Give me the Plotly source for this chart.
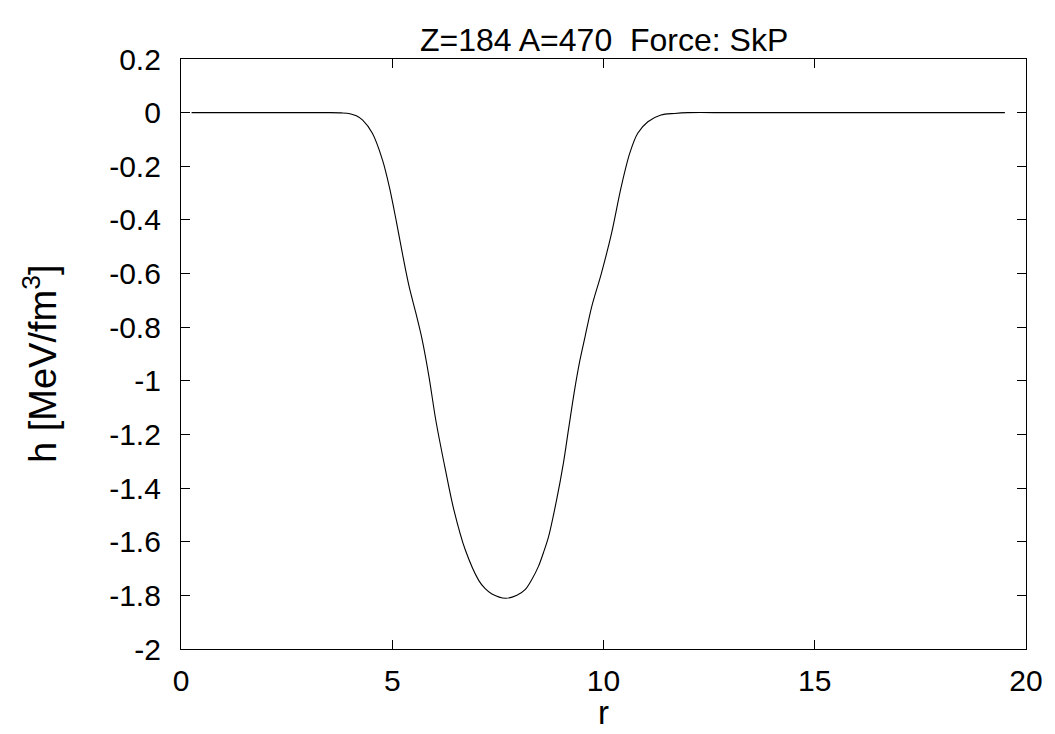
import plotly.graph_objects as go

# data
r = [0.25, 1, 2, 3, 3.5, 3.8, 4.0, 4.15, 4.3, 4.53, 4.77, 4.93, 5.09, 5.24, 5.40,
     5.56, 5.71, 5.87, 6.03, 6.26, 6.46, 6.73, 7.05, 7.2, 7.36, 7.68, 7.95, 8.15,
     8.30, 8.46, 8.58, 8.70, 8.89, 9.05, 9.17, 9.32, 9.44, 9.56, 9.72, 9.95, 10.19,
     10.42, 10.62, 10.81, 11.05, 11.36, 11.68, 12, 13, 15, 17, 19.5]
h = [0, 0, 0, 0, 0, -0.001, -0.004, -0.012, -0.028, -0.077, -0.177, -0.276, -0.40,
     -0.525, -0.649, -0.748, -0.848, -0.985, -1.146, -1.333, -1.482, -1.631, -1.745,
     -1.775, -1.795, -1.811, -1.800, -1.778, -1.742, -1.692, -1.640, -1.581, -1.444,
     -1.308, -1.183, -1.03, -0.925, -0.838, -0.724, -0.599, -0.45, -0.276, -0.152,
     -0.077, -0.034, -0.009, -0.003, 0, 0, 0, 0, 0]

x_ticks = [0, 5, 10, 15, 20]
y_ticks = [0.2, 0, -0.2, -0.4, -0.6, -0.8, -1, -1.2, -1.4, -1.6, -1.8, -2]
y_tick_text = ["0.2", "0", "-0.2", "-0.4", "-0.6", "-0.8", "-1", "-1.2", "-1.4", "-1.6", "-1.8", "-2"]

title_text = "Z=184 A=470\u00a0\u00a0Force: SkP"
x_title = "r"
y_title = "h [MeV/fm<sup>3</sup>]"

FONT = "Liberation Sans, Arial, sans-serif"

fig = go.Figure()
fig.add_trace(go.Scatter(x=r, y=h, mode="lines",
                         line=dict(color="black", width=1.1, shape="spline", smoothing=0.9),
                         showlegend=False, hoverinfo="skip"))

axis_common = dict(showgrid=False, zeroline=False, showline=True, linecolor="black",
                   linewidth=1.3, mirror="allticks", ticks="inside", ticklen=9,
                   tickwidth=1.2, tickcolor="black",
                   tickfont=dict(family=FONT, size=30, color="black"))

fig.update_layout(
    width=1055, height=734,
    margin=dict(l=181, r=25, t=59, b=85),
    paper_bgcolor="white", plot_bgcolor="white",
    font=dict(family=FONT, color="black"),
    xaxis=dict(range=[0, 20], tickvals=x_ticks, ticktext=[str(v) for v in x_ticks],
               ticklabelstandoff=5, **axis_common),
    yaxis=dict(range=[-2, 0.2], tickvals=y_ticks, ticktext=y_tick_text,
               ticklabelstandoff=13, **axis_common),
    annotations=[
        dict(text=title_text, xref="paper", yref="paper", x=0.5, y=1, yshift=19,
             xanchor="center", yanchor="middle", showarrow=False,
             font=dict(family=FONT, size=32, color="black")),
        dict(text=x_title, xref="paper", yref="paper", x=0.5, y=0, yshift=-63,
             xanchor="center", yanchor="middle", showarrow=False,
             font=dict(family=FONT, size=33, color="black")),
        dict(text=y_title, xref="paper", yref="paper", x=0, y=0.5, xshift=-141,
             yshift=-10, xanchor="center", yanchor="middle", textangle=-90,
             showarrow=False, font=dict(family=FONT, size=38, color="black")),
    ],
)

fig.write_html("out.html")
